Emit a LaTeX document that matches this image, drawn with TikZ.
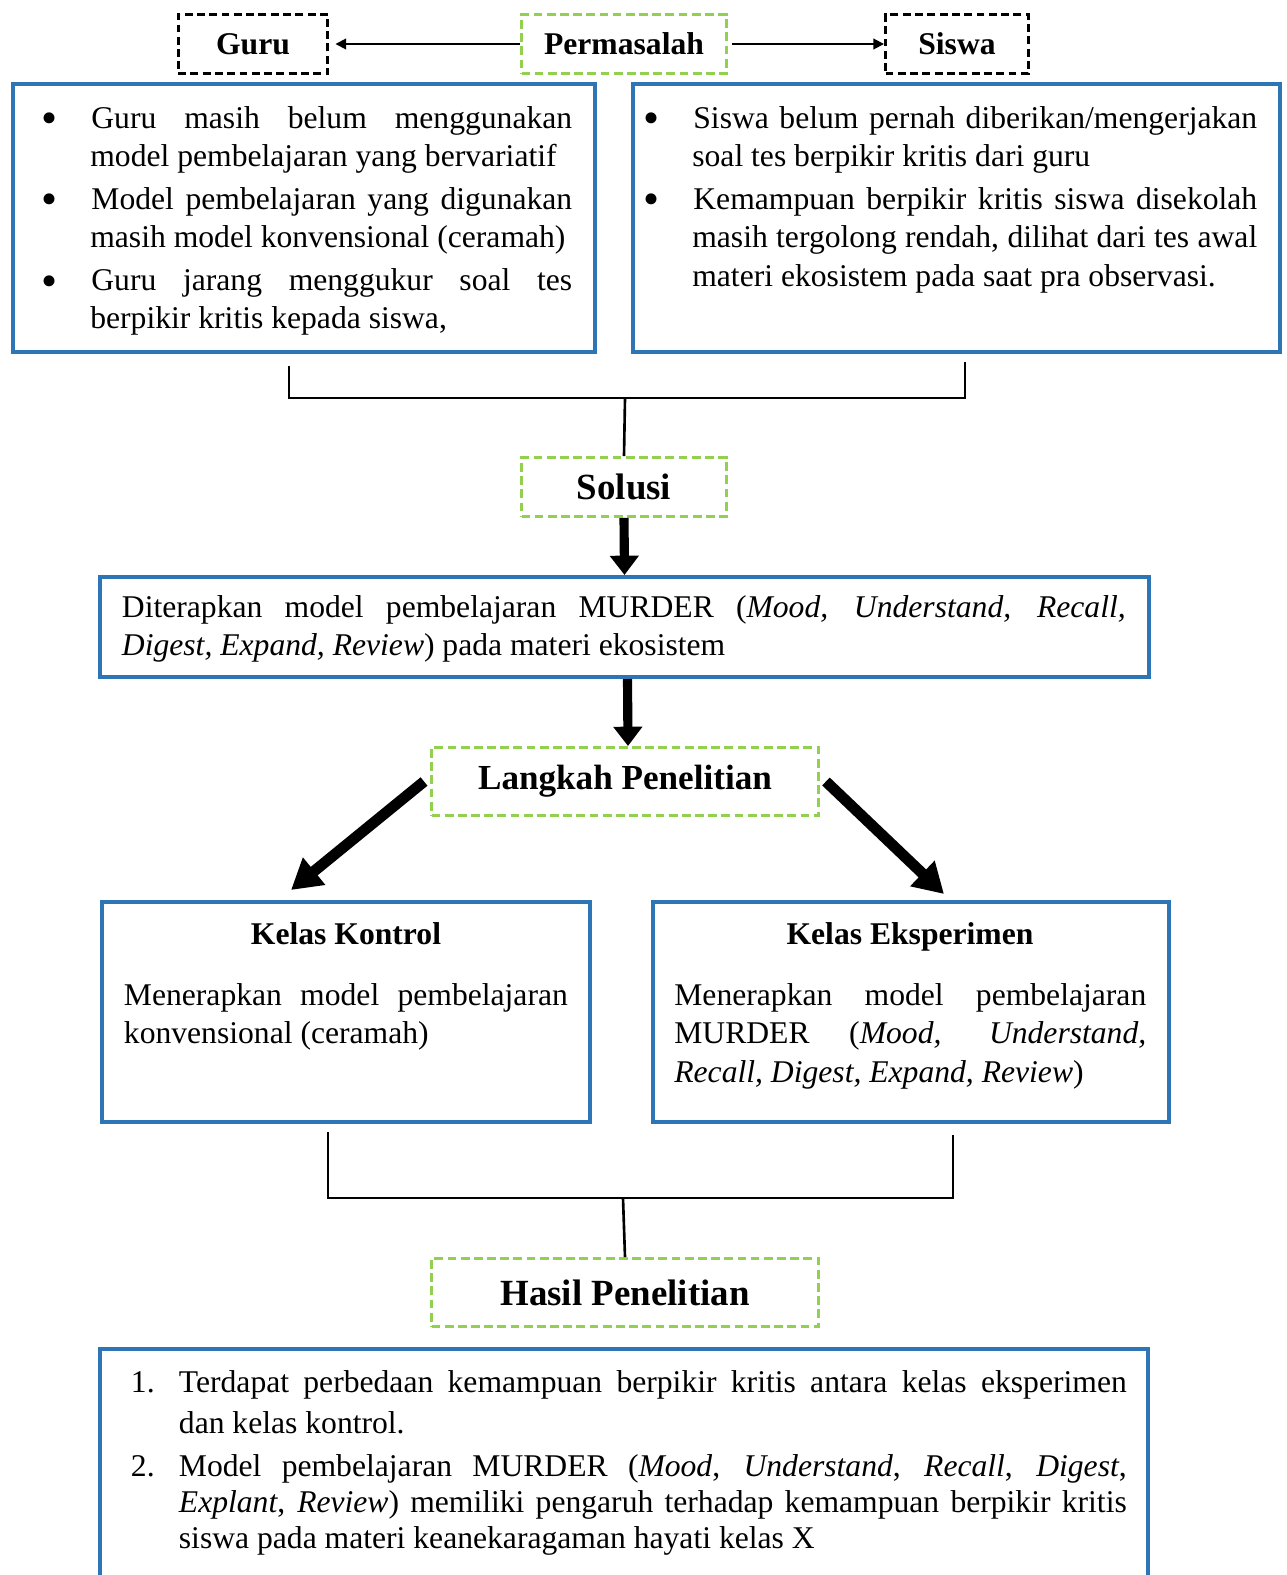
\documentclass[tikz,border=0pt]{standalone}
\usepackage{fontspec}
\setmainfont{Liberation Serif}
\usepackage{enumitem}
\usetikzlibrary{arrows.meta}

\definecolor{birukotak}{RGB}{46,117,182}
\definecolor{hijaukotak}{RGB}{146,208,80}

\newcommand{\titikbesar}{\raisebox{-0.18em}{\scalebox{1.45}{\textbullet}}}

\tikzset{
    kotakbiru/.style={draw=birukotak, line width=2.3pt},
    kotakhijau/.style={draw=hijaukotak, line width=1.7pt, dash pattern=on 5pt off 2.5pt},
    kotakhitam/.style={draw=black, line width=1.7pt, dash pattern=on 4.5pt off 2.5pt},
    isi/.style={anchor=north west, inner sep=0pt, align=justify},
    panahtipis/.style={line width=1.1pt, -{Triangle[length=6pt,width=6pt]}},
    panahtebal/.style={line width=5.2pt, -{Triangle[length=11pt,width=16pt]}},
    panahmiring/.style={line width=6.2pt, -{Triangle[length=17pt,width=19pt]}},
    kurung/.style={line width=1.5pt}
}

\begin{document}
\begin{tikzpicture}[x=0.02cm, y=-0.02cm, font=\fontsize{18}{22}\selectfont]

    \clip (0,0) rectangle (1286,1575);

    % baris atas
    \node (guru) at (253,44) [minimum width=3.0cm, minimum height=1.18cm, kotakhitam] {\bfseries Guru};
    \node (masalah) at (624,44) [minimum width=4.1cm, minimum height=1.18cm, kotakhijau] {\bfseries Permasalah};
    \node (siswa) at (957,44) [minimum width=2.86cm, minimum height=1.18cm, kotakhitam] {\bfseries Siswa};

    \draw[panahtipis] (masalah.west) -- ([xshift=0.12cm]guru.east);
    \draw[panahtipis] ([xshift=0.08cm]masalah.east) -- (siswa.west);

    % kotak permasalahan
    \node (kiri) at (304,218) [minimum width=11.64cm, minimum height=5.36cm, kotakbiru] {};
    \node (kanan) at (956.5,218) [minimum width=12.94cm, minimum height=5.36cm, kotakbiru] {};

    \node (teksKiri) at (41,89) [isi, text width=10.62cm] {%
        \begin{itemize}[label=\titikbesar, leftmargin=0.98cm, labelwidth=0.3cm, labelsep=0.68cm, align=left, topsep=0pt, partopsep=0pt, parsep=0pt, itemsep=2.2pt]
            \item Guru masih belum menggunakan\linebreak model pembelajaran yang bervariatif
            \item Model pembelajaran yang digunakan\linebreak masih model konvensional (ceramah)
            \item Guru jarang menggukur soal tes\linebreak berpikir kritis kepada siswa,
        \end{itemize}};
    \node (teksKanan) at (643,89) [isi, text width=12.28cm] {%
        \begin{itemize}[label=\titikbesar, leftmargin=0.98cm, labelwidth=0.3cm, labelsep=0.68cm, align=left, topsep=0pt, partopsep=0pt, parsep=0pt, itemsep=2.2pt]
            \item Siswa belum pernah diberikan/mengerjakan\linebreak soal tes berpikir kritis dari guru
            \item Kemampuan berpikir kritis siswa disekolah\linebreak masih tergolong rendah, dilihat dari tes awal\linebreak materi ekosistem pada saat pra observasi.
        \end{itemize}};

    % penggabung atas
    \coordinate (temu1) at (625,398);
    \node (solusi) at (624,487) [minimum width=4.1cm, minimum height=1.18cm, kotakhijau] {\fontsize{21}{24}\selectfont\bfseries Solusi};
    \draw[kurung] ([xshift=-0.3cm,yshift=-0.24cm]kiri.south) |- (temu1) -| ([xshift=0.17cm,yshift=-0.16cm]kanan.south);
    \draw[kurung] (temu1) -- (solusi.north);

    % solusi
    \node (terap) at (624.5,627) [minimum width=20.98cm, minimum height=2.0cm, kotakbiru] {};
    \node (teksTerap) at (121.6,595) [isi, text width=20.08cm] {%
        Diterapkan model pembelajaran MURDER (\textit{Mood, Understand, Recall,}\linebreak
        \textit{Digest, Expand, Review}) pada materi ekosistem};
    \draw[panahtebal] (solusi.south) -- (terap.north);

    \node (langkah) at (625,781.5) [minimum width=7.74cm, minimum height=1.36cm, kotakhijau] {\fontsize{20}{24}\selectfont\bfseries Langkah Penelitian};
    \draw[panahtebal] ([xshift=0.06cm]terap.south) -- ([xshift=0.06cm]langkah.north);

    % kelas
    \node (kontrol) at (346,1012) [minimum width=9.76cm, minimum height=4.4cm, kotakbiru] {};
    \node (eksperimen) at (911,1012) [minimum width=10.32cm, minimum height=4.4cm, kotakbiru] {};

    \node (judulKontrol) at (346,944) [anchor=base] {\bfseries Kelas Kontrol};
    \node (judulEksperimen) at (910,944) [anchor=base] {\bfseries Kelas Eksperimen};

    \node (teksKontrol) at (123.6,983) [isi, text width=8.88cm] {%
        Menerapkan model pembelajaran\linebreak konvensional (ceramah)};
    \node (teksEksperimen) at (674,983) [isi, text width=9.44cm] {%
        Menerapkan model pembelajaran\linebreak MURDER (\textit{Mood, Understand,}\linebreak
        \textit{Recall, Digest, Expand, Review})};

    \draw[panahmiring] ([xshift=-0.12cm]langkah.west) -- ([xshift=-1.1cm,yshift=0.2cm]kontrol.north);
    \draw[panahmiring] ([xshift=0.12cm]langkah.east) -- ([xshift=0.66cm,yshift=0.12cm]eksperimen.north);

    % penggabung bawah
    \coordinate (temu2) at (623,1198);
    \node (hasil) at (625,1292.5) [minimum width=7.74cm, minimum height=1.36cm, kotakhijau] {\fontsize{21}{24}\selectfont\bfseries Hasil Penelitian};
    \draw[kurung] ([xshift=-0.36cm,yshift=-0.16cm]kontrol.south) |- (temu2) -| ([xshift=0.84cm,yshift=-0.22cm]eksperimen.south);
    \draw[kurung] (temu2) -- (hasil.north);

    % hasil
    \node (akhir) at (624,1499) [minimum width=20.96cm, minimum height=6cm, kotakbiru] {};
    \node (teksAkhir) at (130.6,1350) [isi, text width=19.92cm, font=\fontsize{18}{20.4}\selectfont] {%
        \begin{enumerate}[label=\arabic*., leftmargin=0.96cm, labelwidth=0.5cm, labelsep=0.46cm, align=left, topsep=0pt, partopsep=0pt, parsep=0pt, itemsep=3.7pt]
            \item {\fontsize{18}{23.8}\selectfont Terdapat perbedaan kemampuan berpikir kritis antara kelas eksperimen\linebreak dan kelas kontrol.\par}
            \item Model pembelajaran MURDER (\textit{Mood}, \textit{Understand}, \textit{Recall}, \textit{Digest},\linebreak
            \textit{Explant}, \textit{Review}) memiliki pengaruh terhadap kemampuan berpikir kritis\linebreak
            siswa pada materi keanekaragaman hayati kelas X
        \end{enumerate}};

\end{tikzpicture}
\end{document}
